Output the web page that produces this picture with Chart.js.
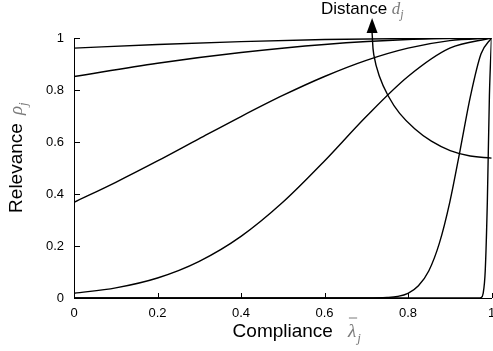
<!DOCTYPE html>
<html>
<head>
<meta charset="utf-8">
<script src="https://cdn.jsdelivr.net/npm/chart.js@4.4.0/dist/chart.umd.min.js"></script>
<style>
  html, body { margin: 0; padding: 0; background: #fff; }
</style>
</head>
<body>
<canvas id="relevanceChart" width="493" height="351"></canvas>
<script>
// axis ticks
const X_TICKS = [0, 0.2, 0.4, 0.6, 0.8, 1];
const Y_TICKS = [0, 0.2, 0.4, 0.6, 0.8, 1];

// curves, from smallest distance to largest
const LAMBDA_FLAT = [0, 0.2, 0.4, 0.6, 0.8, 1];
const RHO_D1 = [0.961, 0.975, 0.986, 0.994, 0.998, 1];
const RHO_D2 = [0.852, 0.903, 0.944, 0.975, 0.994, 1];

const LAMBDA_MID = [0, 0.1, 0.2, 0.3, 0.4, 0.5, 0.6, 0.7, 0.8, 0.9, 1];
const RHO_D3 = [0.368, 0.445, 0.527, 0.613, 0.698, 0.779, 0.852, 0.914, 0.961, 0.99, 1];
const RHO_D4 = [0.018, 0.039, 0.077, 0.141, 0.237, 0.368, 0.527, 0.698, 0.852, 0.961, 1];

const LAMBDA_STEEP = [0, 0.6, 0.7, 0.75, 0.775, 0.8, 0.825, 0.85, 0.875, 0.9, 0.925, 0.95, 0.975, 1];
const RHO_D5 = [0, 0, 0.0001, 0.002, 0.006, 0.018, 0.047, 0.105, 0.21, 0.368, 0.57, 0.779, 0.939, 1];

const LAMBDA_STEEPEST = [0, 0.97, 0.975, 0.98, 0.985, 0.99, 0.995, 1];
const RHO_D6 = [0, 0, 0.002, 0.018, 0.105, 0.368, 0.779, 1];

// "Distance" arrow, drawn from its tail (right) to its head (top)
const ARROW_LAMBDA = [1.0, 0.949, 0.901, 0.856, 0.816, 0.78, 0.752, 0.731, 0.718, 0.714];
const ARROW_RHO = [0.538, 0.546, 0.567, 0.603, 0.651, 0.71, 0.779, 0.855, 0.936, 1.019];

const SANS = '"Liberation Sans", Arial, Helvetica, sans-serif';
const SERIF = '"Liberation Serif", "Times New Roman", serif';
const MATH_COLOR = '#7a7a7a';

function pts(xs, ys) {
  return xs.map((x, i) => ({ x, y: ys[i] }));
}

function curve(xs, ys) {
  return {
    data: pts(xs, ys),
    borderColor: '#000',
    borderWidth: 1.4,
    pointRadius: 0,
    fill: false,
    cubicInterpolationMode: 'monotone'
  };
}

// draws a run of text pieces left to right from (x, y)
function drawParts(ctx, parts, x, y) {
  let cx = x;
  for (const p of parts) {
    ctx.font = p.font;
    ctx.fillStyle = p.color;
    cx += p.dx || 0;
    ctx.fillText(p.t, cx, y + (p.dy || 0));
    const w = ctx.measureText(p.t).width;
    if (p.over) {
      ctx.strokeStyle = p.color;
      ctx.lineWidth = 1;
      ctx.beginPath();
      ctx.moveTo(cx + 1, y + p.over);
      ctx.lineTo(cx + w + 1, y + p.over);
      ctx.stroke();
    }
    cx += w;
  }
}

const decorations = {
  id: 'decorations',
  afterDraw(chart) {
    const { ctx, chartArea: a, scales: { x, y } } = chart;
    ctx.save();

    // inward tick marks
    ctx.strokeStyle = '#000';
    ctx.lineWidth = 1;
    ctx.beginPath();
    X_TICKS.forEach(v => {
      const px = Math.round(x.getPixelForValue(v)) + 0.5;
      ctx.moveTo(px, a.bottom);
      ctx.lineTo(px, a.bottom - 5);
    });
    Y_TICKS.forEach(v => {
      const py = Math.round(y.getPixelForValue(v)) + 0.5;
      ctx.moveTo(a.left, py);
      ctx.lineTo(a.left + 6, py);
    });
    ctx.stroke();

    // arrow head on the distance curve
    const arrowMeta = chart.getDatasetMeta(6);
    const head = arrowMeta.data[arrowMeta.data.length - 1];
    ctx.fillStyle = '#000';
    ctx.beginPath();
    ctx.moveTo(head.x, head.y - 15);
    ctx.lineTo(head.x - 5.5, head.y);
    ctx.lineTo(head.x + 5.5, head.y);
    ctx.closePath();
    ctx.fill();

    ctx.textAlign = 'left';
    ctx.textBaseline = 'alphabetic';

    // x title
    ctx.font = '19px ' + SANS;
    const cw = ctx.measureText('Compliance').width;
    const cx = (a.left + a.right) / 2 - cw / 2;
    drawParts(ctx, [
      { t: 'Compliance', font: '19px ' + SANS, color: '#000' },
      { t: 'λ', font: 'italic 19px ' + SERIF, color: MATH_COLOR, dx: 15, over: -19 },
      { t: 'j', font: 'italic 13px ' + SERIF, color: MATH_COLOR, dx: 1, dy: 5 }
    ], cx, 337);

    // y title
    ctx.save();
    ctx.translate(22, (a.top + a.bottom) / 2);
    ctx.rotate(-Math.PI / 2);
    ctx.font = '19px ' + SANS;
    const rw = ctx.measureText('Relevance').width;
    drawParts(ctx, [
      { t: 'Relevance', font: '19px ' + SANS, color: '#000' },
      { t: 'ρ', font: 'italic 19px ' + SERIF, color: MATH_COLOR, dx: 8 },
      { t: 'j', font: 'italic 13px ' + SERIF, color: MATH_COLOR, dy: 5 }
    ], -rw / 2, 0);
    ctx.restore();

    // distance label above the arrow
    drawParts(ctx, [
      { t: 'Distance ', font: '17px ' + SANS, color: '#000' },
      { t: 'd', font: 'italic 17px ' + SERIF, color: MATH_COLOR },
      { t: 'j', font: 'italic 12px ' + SERIF, color: MATH_COLOR, dy: 4 }
    ], 321, 14);

    ctx.restore();
  }
};

const arrowSet = {
  data: pts(ARROW_LAMBDA, ARROW_RHO),
  borderColor: '#000',
  borderWidth: 1.4,
  pointRadius: 0,
  fill: false,
  tension: 0.4,
  clip: false
};

new Chart(document.getElementById('relevanceChart'), {
  type: 'line',
  data: {
    datasets: [
      curve(LAMBDA_FLAT, RHO_D1),
      curve(LAMBDA_FLAT, RHO_D2),
      curve(LAMBDA_MID, RHO_D3),
      curve(LAMBDA_MID, RHO_D4),
      curve(LAMBDA_STEEP, RHO_D5),
      curve(LAMBDA_STEEPEST, RHO_D6),
      arrowSet
    ]
  },
  options: {
    responsive: false,
    animation: false,
    devicePixelRatio: 1,
    layout: { padding: { top: 38, right: 1.5, left: 0, bottom: 0 } },
    plugins: {
      legend: { display: false },
      tooltip: { enabled: false },
      title: { display: false }
    },
    scales: {
      x: {
        type: 'linear',
        min: 0,
        max: 1,
        afterBuildTicks: s => { s.ticks = X_TICKS.map(v => ({ value: v })); },
        afterFit: s => { s.height = 53; s.paddingLeft = 0; s.paddingRight = 0; },
        ticks: {
          autoSkip: false,
          maxRotation: 0,
          padding: 8,
          color: '#000',
          font: { family: SANS, size: 13 },
          callback: v => String(+v.toFixed(1))
        },
        grid: { display: true, drawOnChartArea: false, drawTicks: false },
        border: { display: true, color: '#000', width: 1 }
      },
      y: {
        type: 'linear',
        min: 0,
        max: 1,
        afterBuildTicks: s => { s.ticks = Y_TICKS.map(v => ({ value: v })); },
        afterFit: s => { s.width = 74; },
        ticks: {
          autoSkip: false,
          padding: 10,
          color: '#000',
          font: { family: SANS, size: 13 },
          callback: v => String(+v.toFixed(1))
        },
        grid: { display: true, drawOnChartArea: false, drawTicks: false },
        border: { display: true, color: '#000', width: 1 }
      }
    }
  },
  plugins: [decorations]
});
</script>
</body>
</html>
